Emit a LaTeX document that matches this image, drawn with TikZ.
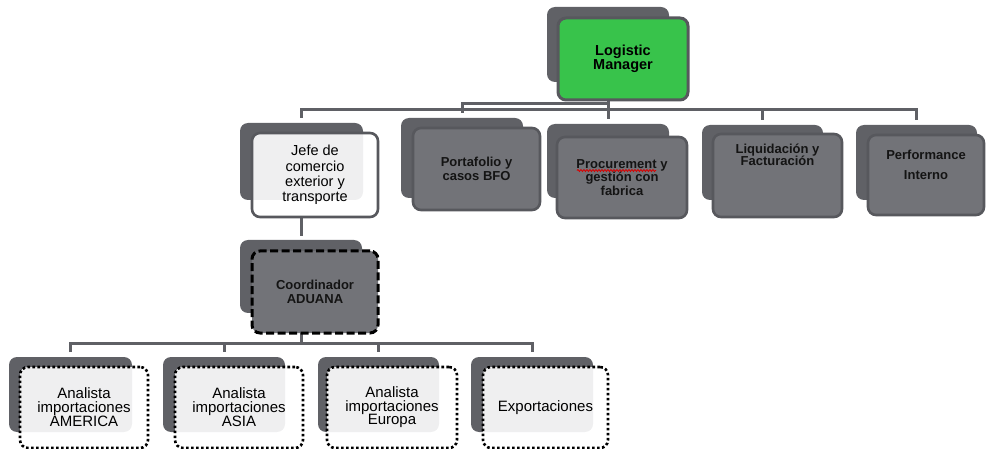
\documentclass[tikz,border=0pt]{standalone}
\usepackage{fontspec}
\setmainfont{Liberation Sans}
\usetikzlibrary{backgrounds,decorations.pathmorphing}
\definecolor{backgray}{HTML}{606166}
\definecolor{frontgray}{HTML}{727378}
\definecolor{edgegray}{HTML}{57585D}
\definecolor{conngray}{HTML}{5F6065}
\definecolor{mgrgreen}{HTML}{38C34B}
\begin{document}
\begin{tikzpicture}[x=1pt,y=-1pt,
  sz/.style 2 args={minimum width=#1pt, minimum height=#2pt},
  backbox/.style={fill=backgray, rounded corners=8pt, inner sep=0pt, outer sep=0pt},
  grayfront/.style={fill=frontgray, draw=edgegray, line width=2.6pt, rounded corners=8pt,
    inner sep=0pt, outer sep=0pt, align=center, text=black!92,
    font=\fontsize{13}{13.5}\selectfont\bfseries},
  lightfront/.style={fill=white, fill opacity=0.9, text opacity=1, draw=edgegray, line width=2.6pt,
    rounded corners=8pt, inner sep=0pt, outer sep=0pt, align=center, text=black,
    font=\fontsize{14.5}{15.3}\selectfont},
  dotfront/.style={fill=white, fill opacity=0.9, text opacity=1, draw=black, line width=2.6pt,
    dash pattern=on 2.6pt off 2.4pt, rounded corners=8pt, inner sep=0pt, outer sep=0pt,
    align=center, text=black, font=\fontsize{15}{13.5}\selectfont},
  dashfront/.style={fill=frontgray, draw=black, line width=3pt, dash pattern=on 8pt off 3.5pt,
    rounded corners=8pt, inner sep=0pt, outer sep=0pt, align=center, text=black!92,
    font=\fontsize{13}{14}\selectfont\bfseries},
  mgrfront/.style={fill=mgrgreen, draw=edgegray, line width=3pt, rounded corners=8pt,
    inner sep=0pt, outer sep=0pt, align=center, text=black,
    font=\fontsize{14.5}{14}\selectfont\bfseries},
  plaintext/.style={inner sep=0pt, align=center, text=black!92},
  conn/.style={draw=conngray, line width=3pt}
]
\useasboundingbox (0,0) rectangle (986,449);
\coordinate (barA) at (0,110);
\coordinate (barB) at (0,104);
\coordinate (barC) at (0,343);

% back boxes
\node[backbox, sz={122}{75}] (lmB) at (608,44.5) {};
\node[backbox, sz={123}{77}] (jefB) at (301.5,161.5) {};
\node[backbox, sz={122}{80}] (portB) at (462,158) {};
\node[backbox, sz={122}{74}] (procB) at (608,161) {};
\node[backbox, sz={121}{75}] (liqB) at (762.5,162.5) {};
\node[backbox, sz={121}{75}] (perfB) at (916.5,162.5) {};
\node[backbox, sz={122}{73}] (coordB) at (301,276.5) {};
\node[backbox, sz={123}{75}] (a1B) at (70.5,394.5) {};
\node[backbox, sz={122}{75}] (a2B) at (224,394.5) {};
\node[backbox, sz={121}{75}] (a3B) at (378.5,394.5) {};
\node[backbox, sz={122}{75}] (a4B) at (532,394.5) {};

% front boxes
\node[mgrfront, sz={130}{82}] (lmF) at (623,59) {Logistic\\Manager};
\node[lightfront, sz={126}{84}] (jefF) at (315,175) {Jefe de\\comercio\\exterior y\\transporte};
\node[grayfront, sz={127}{82}] (portF) at (476.5,169) {Portafolio y\\casos BFO};
\node[grayfront, sz={130}{81}] (procF) at (622,177.5) {Procurement y\\gestión con\\fabrica};
\node[grayfront, sz={129}{83}] (liqF) at (777.5,175.5) {};
\node[grayfront, sz={116}{80}] (perfF) at (926,175) {};
\node[plaintext, font=\fontsize{13}{12.5}\selectfont\bfseries] (liqT) at (777.5,155) {Liquidación y\\Facturación};
\node[plaintext, font=\fontsize{13}{19.5}\selectfont\bfseries] (perfT) at (926,165) {Performance\\Interno};
\node[dashfront, sz={126}{82}] (coordF) at (315,292) {Coordinador\\ADUANA};
\node[dotfront, sz={128}{81}] (a1F) at (84,407.5) {Analista\\importaciones\\AMERICA};
\node[dotfront, sz={128}{81}] (a2F) at (239,407.5) {Analista\\importaciones\\ASIA};
\node[dotfront, sz={130}{81}] (a3F) at (392,407.5) {Analista\\importaciones\\Europa};
\node[dotfront, sz={125}{81}] (a4F) at (545.5,407.5) {Exportaciones};

% spell-check squiggle under "Procurement"
\draw[red!85!black, line width=0.8pt, decorate, decoration={snake, amplitude=1pt, segment length=3pt}]
  (577,170.5) -- (656,170.5);

\begin{scope}[on background layer]
  \draw[conn, shorten >=5pt] (lmF.south -| procB.north) -- (procB.north);
  \draw[conn, shorten <=5pt, shorten >=5pt] (jefB.north) -- (jefB.north |- barA) -- (perfB.north |- barA) -- (perfB.north);
  \draw[conn, shorten >=5pt] (liqB.north |- barA) -- (liqB.north);
  \draw[conn, shorten >=5pt] (procB.north |- barB) -- (portB.north |- barB) -- (portB.north);
  \draw[conn, shorten >=4pt] (jefF.south -| coordB.north) -- (coordB.north);
  \draw[conn] (coordF.south -| coordB.north) -- (coordB.north |- barC);
  \draw[conn, shorten <=5pt, shorten >=5pt] (a1B.north) -- (a1B.north |- barC) -- (a4B.north |- barC) -- (a4B.north);
  \draw[conn, shorten >=5pt] (a2B.north |- barC) -- (a2B.north);
  \draw[conn, shorten >=5pt] (a3B.north |- barC) -- (a3B.north);
\end{scope}
\end{tikzpicture}
\end{document}
